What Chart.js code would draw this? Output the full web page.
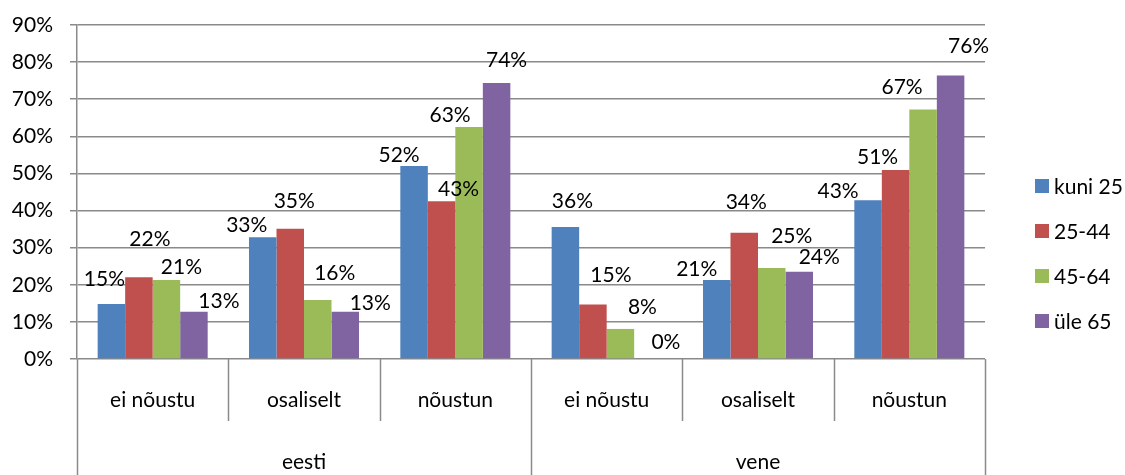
<!DOCTYPE html>
<html>
<head>
<meta charset="utf-8">
<script src="https://cdn.jsdelivr.net/npm/chart.js@4"></script>
<style>
html,body{margin:0;padding:0;background:#fff;}
#c{display:block;}
</style>
</head>
<body>
<canvas id="c" width="1125" height="475"></canvas>
<script>
// ---- data ----
const categories = ["ei nõustu", "osaliselt", "nõustun", "ei nõustu", "osaliselt", "nõustun"];
const groups = ["eesti", "vene"];
const seriesNames = ["kuni 25", "25-44", "45-64", "üle 65"];
const kuni25 = [14.8, 32.8, 52.0, 35.6, 21.3, 42.8];
const v25_44 = [22.0, 35.1, 42.5, 14.7, 34.0, 50.9];
const v45_64 = [21.3, 15.9, 62.5, 8.1, 24.5, 67.2];
const ule65 = [12.7, 12.7, 74.4, 0, 23.5, 76.4];
const yTicks = [0, 10, 20, 30, 40, 50, 60, 70, 80, 90];

// ---- styling (not data) ----
const colors = ["#4F81BD", "#C0504D", "#9BBB59", "#8064A2"];
const gridColor = "#8a8a8a";
const FONT = "Lato, 'Open Sans', sans-serif";
const FSIZE = 21;
// data-label offsets (dx, dy) from each bar's top centre, per series and category
const labelOffsets = [
  [[-7,-25],[-16,-12],[-15,-11],[7,-26],[-20,-11],[-30,-9]],
  [[11,-38],[4,-28],[17,-12],[18,-29],[2,-31],[-18,-13]],
  [[15,-13],[17,-27],[-19,-12],[22,-22],[20,-32],[-21,-22]],
  [[25,-11],[25,-9],[10,-23],[18,-17],[20,-15],[18,-29]]
];

const seriesData = [kuni25, v25_44, v45_64, ule65];

const overlay = {
  id: 'overlay',
  afterDraw(chart) {
    const ctx = chart.ctx;
    const x = chart.scales.x;
    const area = chart.chartArea;
    const H = chart.height;
    const n = categories.length;
    const centers = categories.map((_, i) => x.getPixelForValue(i));
    const bounds = [area.left];
    for (let i = 1; i < n; i++) bounds.push((centers[i-1] + centers[i]) / 2);
    bounds.push(area.right);

    ctx.save();
    ctx.strokeStyle = gridColor;
    ctx.lineWidth = 1.5;
    const innerBottom = area.bottom + 62;
    bounds.forEach((bx, i) => {
      const full = (i === 0 || i === n || i === n / 2);
      ctx.beginPath();
      ctx.moveTo(Math.round(bx) + 0.5, area.bottom);
      ctx.lineTo(Math.round(bx) + 0.5, full ? H : innerBottom);
      ctx.stroke();
    });

    ctx.fillStyle = '#000';
    ctx.font = FSIZE + 'px ' + FONT;
    ctx.textAlign = 'center';
    ctx.textBaseline = 'middle';
    categories.forEach((c, i) => {
      ctx.fillText(c, centers[i], area.bottom + 41);
    });
    groups.forEach((g, gi) => {
      const half = n / groups.length;
      const cx = (bounds[gi * half] + bounds[(gi + 1) * half]) / 2;
      ctx.fillText(g, cx, area.bottom + 103);
    });

    chart.data.datasets.forEach((ds, si) => {
      const meta = chart.getDatasetMeta(si);
      meta.data.forEach((bar, ci) => {
        const v = ds.data[ci];
        const off = labelOffsets[si][ci];
        ctx.fillText(Math.round(v) + '%', bar.x + off[0], bar.y + off[1]);
      });
    });

    ctx.textAlign = 'left';
    const ly0 = 186, lstep = 45;
    seriesNames.forEach((name, i) => {
      const cy = ly0 + i * lstep;
      ctx.fillStyle = colors[i];
      ctx.fillRect(1035, cy - 7, 14, 14);
      ctx.fillStyle = '#000';
      ctx.fillText(name, 1054, cy + 1);
    });
    ctx.restore();
  }
};

new Chart(document.getElementById('c'), {
  type: 'bar',
  data: {
    labels: categories,
    datasets: seriesNames.map((name, i) => ({
      label: name,
      data: seriesData[i],
      backgroundColor: colors[i],
      borderWidth: 0,
      categoryPercentage: 0.727,
      barPercentage: 1.0
    }))
  },
  options: {
    responsive: false,
    animation: false,
    devicePixelRatio: 1,
    layout: { padding: { top: 25, right: 140, bottom: 0, left: 0 }, autoPadding: false },
    plugins: { legend: { display: false }, tooltip: { enabled: false } },
    scales: {
      x: {
        ticks: { display: false },
        grid: { display: false, drawTicks: false },
        border: { display: false },
        afterFit(scale) { scale.height = 116; scale.paddingLeft = 0; scale.paddingRight = 0; }
      },
      y: {
        min: 0, max: 90,
        afterBuildTicks(scale) { scale.ticks = yTicks.map(v => ({ value: v })); },
        ticks: {
          callback: v => v + '%',
          color: '#000',
          padding: 17,
          font: { family: FONT, size: FSIZE }
        },
        grid: { color: gridColor, lineWidth: 1.5, tickLength: 7 },
        border: { color: gridColor, width: 1.5 },
        afterFit(scale) { scale.width = 77; scale.paddingTop = 0; scale.paddingBottom = 0; }
      }
    }
  },
  plugins: [overlay]
});
</script>
</body>
</html>
